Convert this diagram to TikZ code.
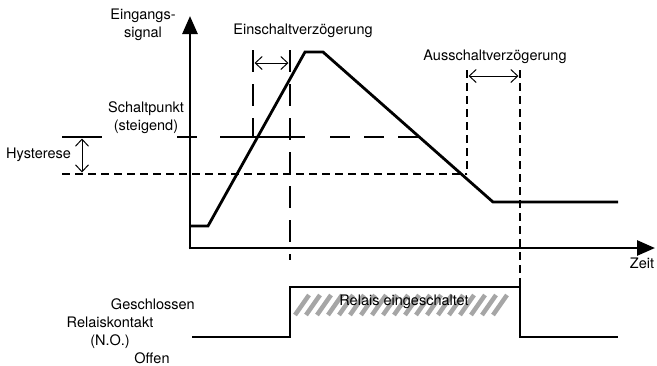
\documentclass[tikz,border=0pt]{standalone}
\usepackage{fontspec}
\setmainfont{TeX Gyre Heros}
\usetikzlibrary{arrows.meta}

\begin{document}
\begin{tikzpicture}[x=1pt,y=-1pt,
  thickline/.style={black,line width=2.8pt},
  longdashes/.style={black,line width=2.8pt,dash pattern=on 22pt off 12pt},
  shortdashes/.style={black,line width=2.8pt,dash pattern=on 8pt off 5pt},
  delayarrow/.style={black,line width=1pt,{Straight Barb[length=7pt,width=13pt]}-{Straight Barb[length=7pt,width=13pt]}},
  axisarrow/.style={thickline,-{Triangle[length=18pt,width=15pt]}},
  txt/.style={font=\fontsize{14.5}{18}\selectfont,inner sep=0pt,align=center},
  hatch/.style={black!35,line width=4.5pt}]
\useasboundingbox (0,0) rectangle (657,365);
% axes
\draw [axisarrow] (190,249.4) -- (190,16);
\draw [axisarrow] (188.6,248) -- (655,248);
% input signal
\draw [thickline] (190,226) -- (208,226) -- (305,52) -- (323,52) -- (493,202) -- (618,202);
% switching point and hysteresis
\draw [thickline] (177,137) -- (197,137);
\draw [thickline] (220,137) -- (305,137);
\draw [thickline,dash pattern=on 20pt off 14pt] (330,137) -- (420,137);
\draw [thickline] (62,137) -- (102,137);
\draw [shortdashes] (62,174) -- (467,174);
\draw [delayarrow] (82,138.5) -- (82,172.5);
% delay markers
\draw [longdashes] (253,50) -- (253,137);
\draw [longdashes] (290,50) -- (290,260);
\draw [shortdashes] (467,70) -- (467,174);
\draw [shortdashes] (520,70) -- (520,287);
\draw [delayarrow] (254.5,63) -- (288.5,63);
\draw [delayarrow] (468.5,76) -- (518.5,76);
% relay contact
\foreach \x in {295,306,...,500}
  \draw [hatch] (\x,315) -- (\x+14,295);
\draw [thickline] (192,337) -- (290,337) -- (290,287) -- (520,287) -- (520,337) -- (618,337);
% labels
\node [txt] (eingang) at (143,25) {Eingangs-\\signal};
\node [txt] (schaltpunkt) at (146,118) {Schaltpunkt\\(steigend)};
\node [txt,anchor=west] (hysterese) at (6,155) {Hysterese};
\node [txt] (einschalt) at (303,31) {Einschaltverzögerung};
\node [txt] (ausschalt) at (495,57) {Ausschaltverzögerung};
\node [txt] (zeit) at (642,263) {Zeit};
\node [txt,anchor=east] (geschlossen) at (195,304) {Geschlossen};
\node [txt] (kontakt) at (110,333) {Relaiskontakt\\(N.O.)};
\node [txt] (offen) at (152,358) {Offen};
\node [txt] (relais) at (404,302) {Relais eingeschaltet};
\end{tikzpicture}
\end{document}
